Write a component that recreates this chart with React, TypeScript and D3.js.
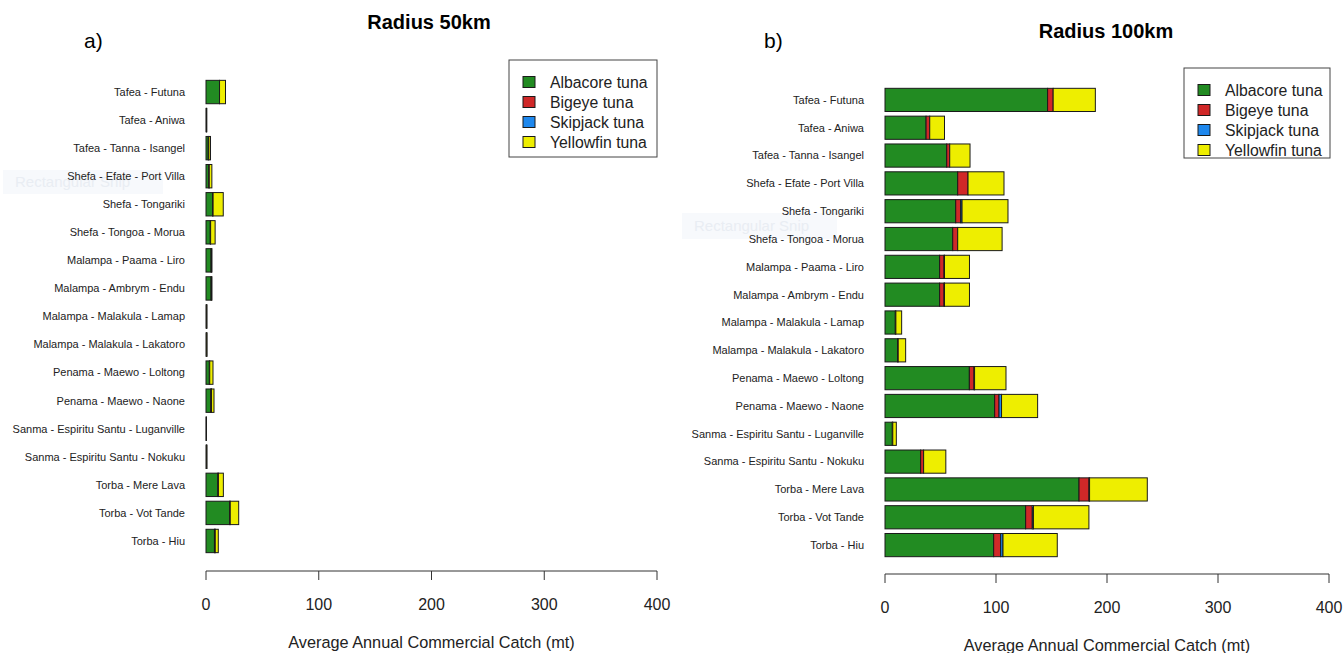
import React from "react";
import * as d3 from "d3";

// Landing sites, top to bottom
const sites = [
  "Tafea - Futuna",
  "Tafea - Aniwa",
  "Tafea - Tanna - Isangel",
  "Shefa - Efate - Port Villa",
  "Shefa - Tongariki",
  "Shefa - Tongoa - Morua",
  "Malampa - Paama - Liro",
  "Malampa - Ambrym - Endu",
  "Malampa - Malakula - Lamap",
  "Malampa - Malakula - Lakatoro",
  "Penama - Maewo - Loltong",
  "Penama - Maewo - Naone",
  "Sanma - Espiritu Santu - Luganville",
  "Sanma - Espiritu Santu - Nokuku",
  "Torba - Mere Lava",
  "Torba - Vot Tande",
  "Torba - Hiu",
];

const species = ["Albacore tuna", "Bigeye tuna", "Skipjack tuna", "Yellowfin tuna"];
const speciesColors = ["#228B22", "#D02828", "#1E88EE", "#EEEE00"];

// Average annual commercial catch (mt) within 50 km
const albacore50 = [12, 0.4, 2, 2.5, 5.8, 3.8, 4.5, 4.5, 0.5, 0.5, 3, 4.2, 0.3, 0.5, 10.5, 21, 7.5];
const bigeye50 = [0, 0.1, 0.5, 0.4, 0.5, 0.3, 0.3, 0.3, 0.1, 0.1, 0.3, 0.5, 0, 0.1, 0.5, 0.5, 0.5];
const skipjack50 = [0, 0, 0, 0, 0, 0, 0, 0, 0, 0, 0, 0.2, 0, 0, 0, 0, 0.2];
const yellowfin50 = [5.3, 0.2, 1.5, 2.3, 9, 4, 0.5, 0.5, 0.2, 0.3, 2.9, 2.2, 0.1, 0.2, 4.4, 7.5, 2.7];

// Average annual commercial catch (mt) within 100 km
const albacore100 = [146.5, 37, 55.6, 65.5, 63.7, 61, 49.2, 49.2, 9.3, 11.4, 76, 98.8, 6.6, 32.1, 174.8, 126.7, 97.9];
const bigeye100 = [5, 3.3, 2.7, 9.3, 4.5, 4.5, 4, 4, 0.5, 0.5, 4.2, 3.9, 0.4, 2.7, 9, 6, 6.3];
const skipjack100 = [0, 0, 0, 0, 1.2, 0, 0.4, 0.4, 0, 0, 0.5, 2.3, 0, 0, 0.5, 1, 2.1];
const yellowfin100 = [38, 13.3, 18.3, 32.4, 41.4, 40, 22.5, 22.5, 5.2, 6.7, 28.3, 32.5, 3.2, 20, 52, 50, 48.9];

const xTicks = [0, 100, 200, 300, 400];

const FONT = "'Liberation Sans', Arial, sans-serif";

type PanelProps = {
  title: string;
  tag: string;
  series: number[][];
  x0: number;
  x1: number;
  yTop: number;
  yBottom: number;
  axisY: number;
  labelRight: number;
  titleX: number;
  titleY: number;
  tagX: number;
  tagY: number;
  legend: { x: number; y: number; w: number; h: number; firstY: number };
  snip: { x: number; y: number; w: number; h: number };
};

function Panel(p: PanelProps) {
  const rows = sites.map((s, i) => {
    const r: Record<string, number | string> = { site: s };
    species.forEach((k, j) => (r[k] = p.series[j][i]));
    return r;
  });
  const stacked = d3.stack<Record<string, number | string>>().keys(species)(rows as any);
  const x = d3.scaleLinear().domain([0, 400]).range([p.x0, p.x1]);
  const y = d3
    .scaleBand<string>()
    .domain(sites)
    .range([p.yTop, p.yBottom])
    .paddingInner(0.2 / 1.2)
    .paddingOuter(0.1 / 1.2);
  const bw = y.bandwidth();

  return (
    <g>
      {/* faint selection box left over on the page */}
      <rect x={p.snip.x} y={p.snip.y} width={p.snip.w} height={p.snip.h} fill="#f7f9fc" />
      <text
        x={p.snip.x + 12}
        y={p.snip.y + p.snip.h / 2 + 5}
        fontSize={15}
        fill="#e9edf3"
        fontFamily={FONT}
      >
        Rectangular Snip
      </text>

      <text x={p.titleX} y={p.titleY} textAnchor="middle" fontWeight="bold" fontSize={20} fontFamily={FONT}>
        {p.title}
      </text>
      <text x={p.tagX} y={p.tagY} fontSize={21} fontFamily={FONT}>
        {p.tag}
      </text>

      {sites.map((s) => (
        <text
          key={s}
          x={p.labelRight}
          y={(y(s) as number) + bw / 2}
          dy="0.35em"
          textAnchor="end"
          fontSize={11}
          fill="#222"
          fontFamily={FONT}
        >
          {s}
        </text>
      ))}

      {stacked.map((layer, j) => (
        <g key={species[j]} fill={speciesColors[j]}>
          {layer.map((d, i) => (
            <rect
              key={i}
              x={x(d[0])}
              y={y(sites[i])}
              width={Math.max(0, x(d[1]) - x(d[0]))}
              height={bw}
              stroke="#1a1a1a"
              strokeWidth={1}
            />
          ))}
        </g>
      ))}

      {/* x axis */}
      <g fontFamily={FONT}>
        <line x1={x(0)} x2={x(400)} y1={p.axisY} y2={p.axisY} stroke="#333" strokeWidth={1} />
        {xTicks.map((t) => (
          <g key={t}>
            <line x1={x(t)} x2={x(t)} y1={p.axisY} y2={p.axisY + 9} stroke="#333" />
            <text x={x(t)} y={p.axisY + 33} dy="0.35em" textAnchor="middle" fontSize={16} fill="#222">
              {t}
            </text>
          </g>
        ))}
        <text x={(x(0) + x(400)) / 2} y={p.axisY + 71} dy="0.35em" textAnchor="middle" fontSize={16.3} fill="#222">
          Average Annual Commercial Catch (mt)
        </text>
      </g>

      {/* legend */}
      <g fontFamily={FONT}>
        <rect x={p.legend.x} y={p.legend.y} width={p.legend.w} height={p.legend.h} fill="white" stroke="#444" />
        {species.map((s, j) => {
          const cy = p.legend.firstY + j * 20;
          return (
            <g key={s}>
              <rect x={p.legend.x + 14} y={cy - 5.5} width={12} height={11} fill={speciesColors[j]} stroke="#1a1a1a" />
              <text x={p.legend.x + 41} y={cy} dy="0.35em" fontSize={15.8} fill="#222">
                {s}
              </text>
            </g>
          );
        })}
      </g>
    </g>
  );
}

export default function App() {
  return (
    <svg width={1343} height={653} style={{ position: "absolute", left: 0, top: 0, background: "white" }}>
      <Panel
        title="Radius 50km"
        tag="a)"
        series={[albacore50, bigeye50, skipjack50, yellowfin50]}
        x0={206}
        x1={657}
        yTop={78}
        yBottom={555}
        axisY={571}
        labelRight={185}
        titleX={429}
        titleY={29}
        tagX={84}
        tagY={48}
        legend={{ x: 509, y: 60, w: 148, h: 97, firstY: 82 }}
        snip={{ x: 3, y: 170, w: 160, h: 24 }}
      />
      <Panel
        title="Radius 100km"
        tag="b)"
        series={[albacore100, bigeye100, skipjack100, yellowfin100]}
        x0={885}
        x1={1329}
        yTop={86}
        yBottom={559}
        axisY={574}
        labelRight={864}
        titleX={1106}
        titleY={38}
        tagX={764}
        tagY={48}
        legend={{ x: 1184, y: 68, w: 146, h: 90, firstY: 90 }}
        snip={{ x: 682, y: 213, w: 155, h: 26 }}
      />
    </svg>
  );
}
